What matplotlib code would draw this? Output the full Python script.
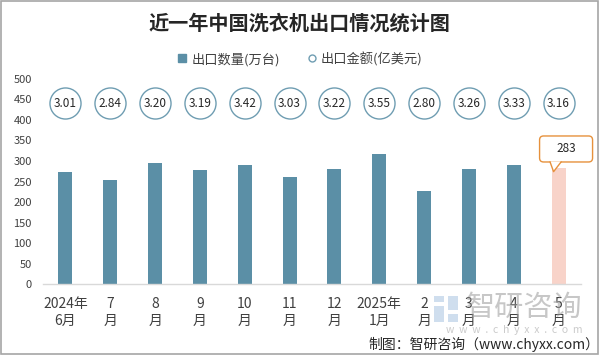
import matplotlib
matplotlib.use('Agg')
import matplotlib.pyplot as plt
from matplotlib.lines import Line2D
from matplotlib.patches import Rectangle, FancyBboxPatch, Polygon
from matplotlib.transforms import Affine2D, ScaledTranslation
import numpy as np

plt.rcParams['font.family'] = ['Noto Sans CJK SC', 'DejaVu Sans']

# data
months = ['2024年\n6月', '7\n月', '8\n月', '9\n月', '10\n月', '11\n月', '12\n月',
          '2025年\n1月', '2\n月', '3\n月', '4\n月', '5\n月']
volume = [273, 254, 295, 278, 290, 261, 281, 317, 227, 281, 290, 283]   # 万台
amount = [3.01, 2.84, 3.20, 3.19, 3.42, 3.03, 3.22, 3.55, 2.80, 3.26, 3.33, 3.16]  # 亿美元

BLUE = '#5b8fa6'
PINK = '#f8d3c9'
ORANGE = '#e6913c'
RING = '#6f9db2'
TXT = '#404040'

fig = plt.figure(figsize=(6.02, 3.56), dpi=100)
ax = fig.add_axes([0.0714, 0.2014, 0.8937, 0.5773])

x = np.arange(len(months))
colors = [BLUE] * (len(months) - 1) + [PINK]
ax.bar(x, volume, width=0.31, color=colors, zorder=2)

# amount row, drawn as rings along the top of the plot
ring_y = 440
ax.scatter(x, [ring_y] * len(x), s=500, facecolor='white', edgecolor=RING,
           linewidth=1.0, zorder=3, clip_on=False)
for xi, a in zip(x, amount):
    ax.text(xi, ring_y, '%.2f' % a, ha='center', va='center', fontsize=8.5,
            color='#262626', zorder=4)

ax.set_xlim(-0.5, len(months) - 0.5)
ax.set_ylim(0, 500)
ax.set_yticks(range(0, 501, 50))
ax.set_xticks(x)
ax.set_xticklabels(months, fontsize=10, color=TXT, linespacing=1.3)
ax.tick_params(axis='y', length=0, pad=8, labelsize=8, labelcolor=TXT)
ax.tick_params(axis='x', length=0, pad=9)
for s in ['top', 'right', 'left']:
    ax.spines[s].set_visible(False)
ax.spines['bottom'].set_color('#d9d9d9')
ax.spines['bottom'].set_linewidth(1.0)

# callout for the latest month, shape given in pixels around the bar top
anchor = Affine2D() + ScaledTranslation(x[-1], volume[-1], ax.transData)
box = FancyBboxPatch((-19, 6), 53, 26, boxstyle='round,pad=0,rounding_size=4',
                     fc='white', ec=ORANGE, lw=1.0, transform=anchor, clip_on=False, zorder=5)
ax.add_patch(box)
ax.add_patch(Polygon([(-8.5, 6.6), (-5, -3.7), (2.5, 6.6)], closed=True, fc='white',
                     ec='none', transform=anchor, clip_on=False, zorder=6))
ax.add_line(Line2D([-8.5, -5, 2.5], [6, -3.7, 6], color=ORANGE, lw=1.0,
                   transform=anchor, clip_on=False, zorder=7))
ax.text(7.5, 19.5, str(volume[-1]), transform=anchor, ha='center', va='center',
        fontsize=8.5, color='#262626', zorder=8)

fig.text(0.498, 1 - 23.5 / 356, '近一年中国洗衣机出口情况统计图', ha='center', va='center',
         fontsize=14.5, fontweight='bold', color='#262626')

handles = [Line2D([], [], ls='none', marker='s', ms=5.5, color=BLUE, mec=BLUE),
           Line2D([], [], ls='none', marker='o', ms=5, mfc='white', mec=RING, mew=1.0)]
fig.legend(handles, ['出口数量(万台)', '出口金额(亿美元)'], loc='center',
           bbox_to_anchor=(0.498, 1 - 59 / 356), ncol=2, frameon=False,
           fontsize=9.5, handlelength=0.8, handletextpad=0.3, columnspacing=2.0,
           labelcolor=TXT)

# watermark
fig.text(582 / 602, 1 - 308 / 356, '智研咨询', ha='right', va='center', fontsize=21,
         color='#9a9a9a', alpha=0.55)
fig.text(583 / 602, 1 - 330 / 356, 'w  w  w  .  c  h  y  x  x  .  c  o  m', ha='right',
         va='center', fontsize=7.5, color='#b5b5b5', alpha=0.7)
for (px, py, w, h) in [(434, 296, 10, 6), (448, 296, 10, 14), (434, 306, 10, 16), (448, 314, 10, 8)]:
    fig.add_artist(Rectangle((px / 602, 1 - (py + h) / 356), w / 602, h / 356,
                             transform=fig.transFigure, fc='#c4d6ea', ec='none', alpha=0.8))

fig.text(599 / 602, 1 - 344 / 356, '制图：智研咨询（www.chyxx.com）', ha='right', va='center',
         fontsize=10, color='#262626')

# outer frame
fig.add_artist(Rectangle((0.8 / 602, 2.2 / 356), 597.5 / 602, 353 / 356,
                         transform=fig.transFigure, fill=False, ec='#a6a6a6', lw=1.2))

fig.savefig('out.png', dpi=100)
